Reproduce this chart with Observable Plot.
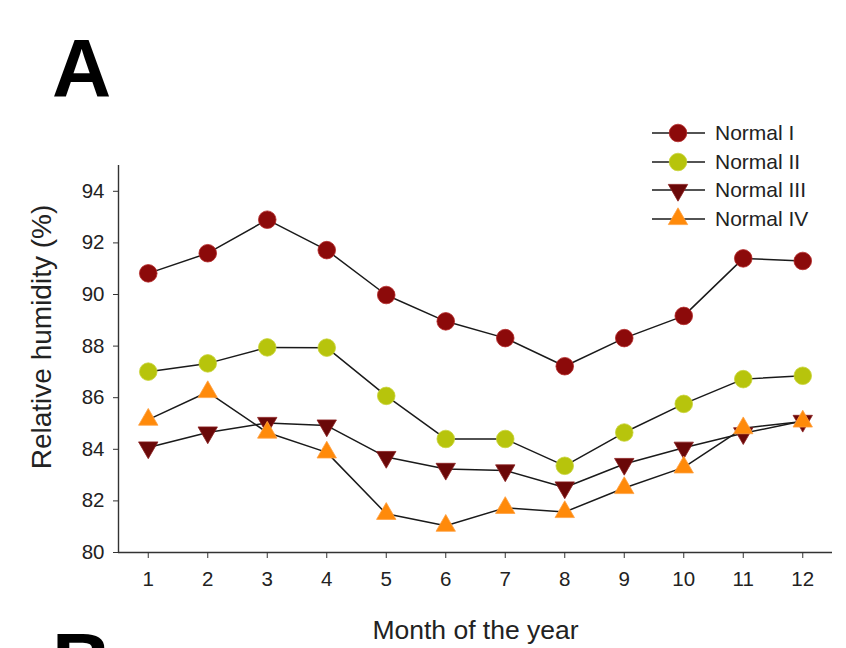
<!DOCTYPE html>
<html><head><meta charset="utf-8">
<script src="https://cdn.jsdelivr.net/npm/d3@7"></script>
<script src="https://cdn.jsdelivr.net/npm/@observablehq/plot@0.6"></script>
<style>
body{margin:0;background:#fff;}
#wrap{position:relative;width:846px;height:648px;overflow:hidden;font-family:"Liberation Sans",Arial,sans-serif;background:#fff;}
#chart{position:absolute;left:0;top:0;}
.panel{position:absolute;font-weight:bold;font-size:82px;line-height:1;color:#000;}
.row{position:absolute;left:0;height:28px;display:flex;align-items:center;white-space:nowrap;font-size:21px;color:#222;}
.row svg{display:block;margin-right:9px;}
</style></head><body>
<div id="wrap">
  <div id="chart"></div>
  <div class="panel" style="left:52px;top:27px;">A</div>
  <div class="panel" style="left:52px;top:621px;">B</div>
  <div id="legend" style="position:absolute;left:650px;top:119px;"></div>
</div>
<script>
const months = [1,2,3,4,5,6,7,8,9,10,11,12];
const yTicks = [80,82,84,86,88,90,92,94];
const seriesNames = ["Normal I","Normal II","Normal III","Normal IV"];
const normalI   = [90.82, 91.6, 92.9, 91.72, 89.98, 88.96, 88.31, 87.22, 88.31, 89.17, 91.4, 91.3];
const normalII  = [87.01, 87.33, 87.95, 87.94, 86.07, 84.4, 84.4, 83.36, 84.65, 85.76, 86.72, 86.85];
const normalIII = [84.07, 84.65, 85.02, 84.92, 83.7, 83.24, 83.18, 82.52, 83.43, 84.06, 84.62, 85.1];
const normalIV  = [85.15, 86.22, 84.65, 83.88, 81.5, 81.04, 81.73, 81.57, 82.5, 83.3, 84.82, 85.08];
const seriesValues = [normalI, normalII, normalIII, normalIV];
const seriesFill = ["#8c0a0a", "#b7c40c", "#6a0808", "#ff8a0a"];
const seriesEdge = ["#b52a2a", "#c9d43a", "#8a2020", "#ffa040"];
const seriesShape = ["circle", "circle", "down", "up"];

const downTriangle = {
  draw(context, size) {
    const y = -Math.sqrt(size / (Math.sqrt(3) * 3));
    context.moveTo(0, -y * 2);
    context.lineTo(-Math.sqrt(3) * y, y);
    context.lineTo(Math.sqrt(3) * y, y);
    context.closePath();
  }
};
function symbolOf(s) { return s === "circle" ? "circle" : s === "up" ? d3.symbolTriangle : downTriangle; }
function radiusOf(s) { return s === "circle" ? 8.8 : 7.2; }

const data = [];
seriesNames.forEach((name, i) => {
  seriesValues[i].forEach((v, j) => data.push({series: name, idx: i, month: months[j], value: v}));
});

const marks = [
  Plot.ruleY([80], {stroke: "#333", strokeWidth: 1.4}),
  Plot.ruleX([0.5], {stroke: "#333", strokeWidth: 1.4}),
  Plot.axisX({ticks: months, tickSize: 6, tickPadding: 13, fontSize: 20.5, label: null, tickFormat: d => String(d), stroke: "#333"}),
  Plot.axisY({ticks: yTicks, tickSize: 5, tickPadding: 9, fontSize: 20.5, label: null, stroke: "#333"}),
  Plot.text(["Month of the year"], {text: d => d, frameAnchor: "bottom", dy: 86, fontSize: 26.5, fill: "#222"}),
  Plot.text(["Relative humidity (%)"], {text: d => d, frameAnchor: "left", textAnchor: "middle", dx: -76, dy: -22, rotate: -90, fontSize: 28, fill: "#222"})
];
seriesNames.forEach((name, i) => {
  const d = data.filter(r => r.idx === i);
  marks.push(Plot.line(d, {x: "month", y: "value", stroke: "#1a1a1a", strokeWidth: 1.5}));
});
seriesNames.forEach((name, i) => {
  const d = data.filter(r => r.idx === i);
  marks.push(Plot.dot(d, {x: "month", y: "value", symbol: symbolOf(seriesShape[i]), r: radiusOf(seriesShape[i]),
    fill: seriesFill[i], stroke: seriesEdge[i], strokeWidth: 0.8}));
});

const chart = Plot.plot({
  width: 846, height: 648,
  marginLeft: 118, marginRight: 14, marginTop: 165, marginBottom: 96,
  style: {fontFamily: "'Liberation Sans', Arial, sans-serif", background: "transparent", color: "#222"},
  x: {domain: [0.5, 12.5]},
  y: {domain: [80, 95]},
  marks
});
document.getElementById("chart").appendChild(chart);

// legend
const legend = d3.select("#legend");
seriesNames.forEach((name, i) => {
  const row = legend.append("div").attr("class", "row").style("top", (i * 28.5) + "px");
  const svg = row.append("svg").attr("width", 56).attr("height", 28);
  svg.append("line").attr("x1", 2).attr("x2", 55).attr("y1", 14).attr("y2", 14).attr("stroke", "#1a1a1a").attr("stroke-width", 1.4);
  const r = radiusOf(seriesShape[i]);
  const sym = seriesShape[i] === "circle" ? d3.symbolCircle : symbolOf(seriesShape[i]);
  svg.append("path").attr("d", d3.symbol(sym, r * r * Math.PI)()).attr("transform", "translate(28,14)")
    .attr("fill", seriesFill[i]).attr("stroke", seriesEdge[i]).attr("stroke-width", 0.8);
  row.append("span").text(name);
});
</script>
</body></html>
